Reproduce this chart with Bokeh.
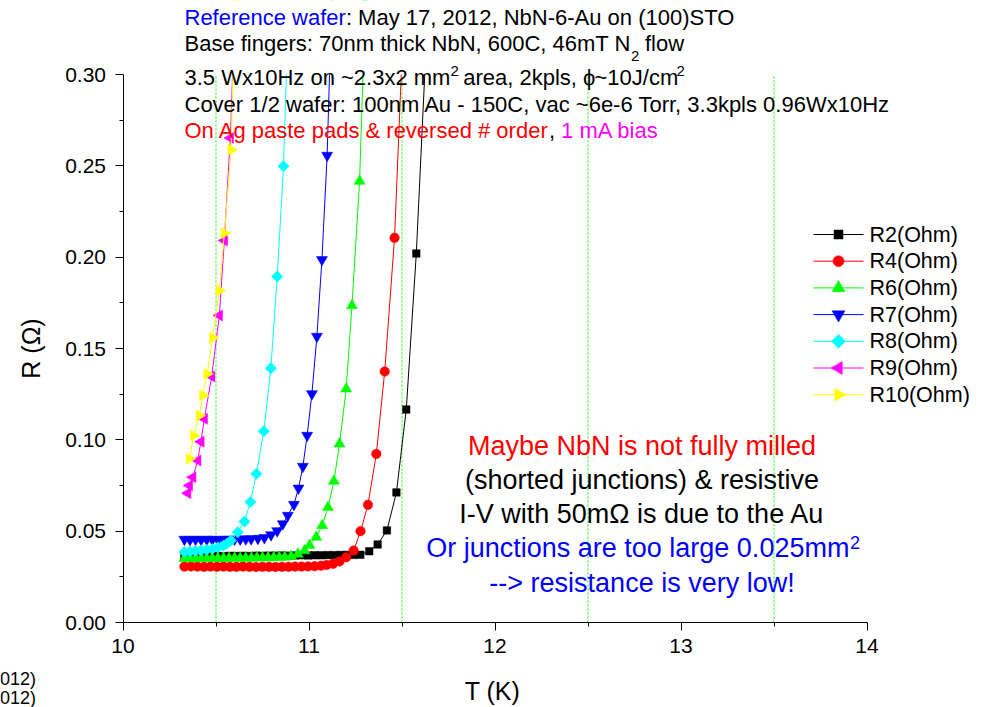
from bokeh.plotting import figure
from bokeh.models import Label, Range1d, FixedTicker, PrintfTickFormatter
from bokeh.embed import file_html
from bokeh.resources import INLINE
import math

# ---- R(T) sweeps, one pair of lists per pad ------------------------------
T_R2 = [10.33, 10.365, 10.40, 10.435, 10.47, 10.505, 10.54, 10.575, 10.61, 10.645,
        10.68, 10.715, 10.75, 10.785, 10.82, 10.855, 10.89, 10.925, 10.96, 10.995,
        11.03, 11.065, 11.10, 11.135, 11.17, 11.205, 11.24, 11.276, 11.324, 11.369,
        11.419, 11.470, 11.523, 11.577, 11.627]
R_R2 = [0.0362, 0.0363, 0.0362, 0.0364, 0.0363, 0.0364, 0.0363, 0.0365, 0.0364, 0.0365,
        0.0364, 0.0366, 0.0365, 0.0366, 0.0366, 0.0367, 0.0366, 0.0367, 0.0368, 0.0367,
        0.0368, 0.0368, 0.0369, 0.0369, 0.0370, 0.0370, 0.0370, 0.0371, 0.0390, 0.0427,
        0.0504, 0.0712, 0.1166, 0.2020, 0.3100]

T_R4 = [10.33, 10.365, 10.40, 10.435, 10.47, 10.505, 10.54, 10.575, 10.61, 10.645,
        10.68, 10.715, 10.75, 10.785, 10.82, 10.855, 10.89, 10.925, 10.96, 10.995,
        11.03, 11.065, 11.095, 11.129, 11.164, 11.200, 11.240, 11.277, 11.317, 11.362,
        11.407, 11.460, 11.500]
R_R4 = [0.0306, 0.0307, 0.0306, 0.0305, 0.0306, 0.0305, 0.0306, 0.0305, 0.0305, 0.0306,
        0.0305, 0.0304, 0.0305, 0.0305, 0.0304, 0.0305, 0.0305, 0.0306, 0.0306, 0.0307,
        0.0308, 0.0311, 0.0315, 0.0321, 0.0334, 0.0357, 0.0394, 0.0500, 0.0644, 0.0923,
        0.1374, 0.2106, 0.3100]

T_R6 = [10.33, 10.36, 10.39, 10.42, 10.45, 10.48, 10.51, 10.54, 10.57, 10.60,
        10.63, 10.66, 10.69, 10.72, 10.75, 10.78, 10.81, 10.84, 10.87, 10.904,
        10.940, 10.976, 11.003, 11.039, 11.071, 11.102, 11.134, 11.164, 11.200, 11.231,
        11.272, 11.303]
R_R6 = [0.0350, 0.0351, 0.0350, 0.0351, 0.0351, 0.0352, 0.0351, 0.0352, 0.0352, 0.0353,
        0.0352, 0.0353, 0.0353, 0.0354, 0.0354, 0.0355, 0.0355, 0.0357, 0.0358, 0.0362,
        0.0374, 0.0394, 0.0422, 0.0467, 0.0531, 0.0631, 0.0774, 0.0978, 0.1279, 0.1735,
        0.2416, 0.3400]

T_R7 = [10.33, 10.36, 10.39, 10.42, 10.45, 10.48, 10.51, 10.54, 10.57, 10.60,
        10.63, 10.66, 10.689, 10.725, 10.760, 10.796, 10.829, 10.859, 10.886, 10.919,
        10.9435, 10.967, 10.990, 11.0156, 11.0425, 11.0695, 11.0975, 11.125]
R_R7 = [0.0455, 0.0454, 0.0455, 0.0454, 0.0455, 0.0455, 0.0454, 0.0455, 0.0455, 0.0456,
        0.0456, 0.0457, 0.0458, 0.0460, 0.0464, 0.0480, 0.0502, 0.0540, 0.0586, 0.0646,
        0.0735, 0.0854, 0.1024, 0.1252, 0.1566, 0.1986, 0.2557, 0.3500]

T_R8 = [10.33, 10.36, 10.39, 10.42, 10.45, 10.48, 10.51, 10.54, 10.56, 10.581,
        10.617, 10.653, 10.685, 10.717, 10.757, 10.795, 10.829, 10.863, 10.897]
R_R8 = [0.0386, 0.0388, 0.0391, 0.0394, 0.0398, 0.0403, 0.0411, 0.0421, 0.0433, 0.0449,
        0.0494, 0.0553, 0.0659, 0.0814, 0.1047, 0.1392, 0.1894, 0.2498, 0.3600]

T_R9 = [10.348, 10.357, 10.375, 10.402, 10.419, 10.437, 10.477, 10.518, 10.545, 10.577,
        10.600]
R_R9 = [0.0708, 0.0750, 0.0795, 0.0887, 0.0990, 0.1115, 0.1347, 0.1681, 0.2091, 0.2653,
        0.3300]

T_R10 = [10.357, 10.380, 10.410, 10.429, 10.452, 10.482, 10.518, 10.545, 10.581, 10.600]
R_R10 = [0.0896, 0.1024, 0.1133, 0.1243, 0.1361, 0.1559, 0.1817, 0.2131, 0.2588, 0.3400]

SERIES = ["R2(Ohm)", "R4(Ohm)", "R6(Ohm)", "R7(Ohm)", "R8(Ohm)", "R9(Ohm)", "R10(Ohm)"]

X_TICKS = [10, 11, 12, 13, 14]
X_MINOR = [10.5, 11.5, 12.5, 13.5]
Y_TICKS = [0.00, 0.05, 0.10, 0.15, 0.20, 0.25, 0.30]
Y_MINOR = [0.025, 0.075, 0.125, 0.175, 0.225, 0.275]

# ---- page geometry ---------------------------------------------------------
W, H = 984, 707
LEFT, RIGHT, TOP, BOTTOM = 122.5, 866.5, 74, 622   # plot box in canvas pixels
X0, X1, Y0, Y1 = 10, 14, 0.0, 0.30
FONT = "Liberation Sans"


def dx(px):
    """canvas pixel column -> temperature"""
    return X0 + (px - LEFT) / (RIGHT - LEFT) * (X1 - X0)


def dy(py):
    """canvas pixel row -> resistance"""
    return Y0 + (BOTTOM - py) / (BOTTOM - TOP) * (Y1 - Y0)


# the frame fills the whole canvas so that the notes around the box stay visible;
# the axes are pinned to T=10 K and R=0 and bounded to the plotted ranges
p = figure(width=W, height=H, output_backend="svg", toolbar_location=None,
           x_range=Range1d(dx(0), dx(W)), y_range=Range1d(dy(H), dy(0)),
           min_border_left=0, min_border_right=0,
           min_border_top=0, min_border_bottom=0)
p.title.visible = False
p.outline_line_color = None
p.background_fill_color = "white"
p.border_fill_color = "white"
p.xgrid.visible = False
p.ygrid.visible = False

xa, ya = p.xaxis[0], p.yaxis[0]
xa.fixed_location = Y0
ya.fixed_location = X0
xa.bounds = (X0, X1)
ya.bounds = (Y0, Y1)
for ax in (xa, ya):
    ax.axis_line_color = "black"
    ax.axis_line_width = 1
    ax.major_tick_in = 0
    ax.major_tick_out = 8
    ax.minor_tick_in = 0
    ax.minor_tick_out = 4
    ax.major_tick_line_color = "black"
    ax.minor_tick_line_color = "black"
    ax.major_label_text_font = FONT
    ax.major_label_text_font_size = "21px"
    ax.major_label_text_color = "black"
xa.ticker = FixedTicker(ticks=X_TICKS, minor_ticks=X_MINOR)
ya.ticker = FixedTicker(ticks=Y_TICKS, minor_ticks=Y_MINOR)
ya.formatter = PrintfTickFormatter(format="%.2f")
xa.major_label_standoff = 8
ya.major_label_standoff = 9

# dotted green guides at the half-kelvin marks
p.segment(x0=X_MINOR, x1=X_MINOR, y0=[Y0] * len(X_MINOR), y1=[Y1] * len(X_MINOR),
          line_color="#00ff00", line_dash="2 2", line_width=1)

# ---- curves ------------------------------------------------------------------
# colour, marker, size in the plot, size in the key, rotation
styles = [
    ("#000000", "square", 7.5, 9, 0.0),
    ("#ff0000", "circle", 9.5, 11, 0.0),
    ("#00ff00", "triangle", 11, 13, 0.0),
    ("#0000ff", "inverted_triangle", 11, 13, 0.0),
    ("#00ffff", "square", 8, 10, math.pi / 4),
    ("#ff00ff", "triangle", 11, 13, math.pi / 2),
    ("#ffff00", "triangle", 11, 13, -math.pi / 2),
]
data = [(T_R2, R_R2), (T_R4, R_R4), (T_R6, R_R6), (T_R7, R_R7),
        (T_R8, R_R8), (T_R9, R_R9), (T_R10, R_R10)]

for (t, r), (col, mk, sz, _, ang) in zip(data, styles):
    p.line(t, r, line_color=col, line_width=1)
    p.scatter(t, r, marker=mk, size=sz, angle=ang, fill_color=col,
              line_color=col, line_width=0.5)

# curves leave the box at R = 0.30: blank out everything above it
p.quad(left=[dx(-20)], right=[dx(W + 20)], bottom=[Y1], top=[dy(-20)],
       fill_color="white", line_color=None)


def put(text, px, py, color="black", size=22, align="left", angle=0.0):
    p.add_layout(Label(x=dx(px), y=dy(py), text=text, text_color=color,
                       text_font=FONT, text_font_size=f"{size}px",
                       text_align=align, text_baseline="middle",
                       angle=angle))


# ---- key (drawn by hand so that rotated markers keep their direction) ------------
KEY_X0, KEY_X1, KEY_TOP, KEY_STEP = 813, 863, 234, 26.7
for i, (name, (col, mk, _, ksz, ang)) in enumerate(zip(SERIES, styles)):
    ky = dy(KEY_TOP + i * KEY_STEP)
    p.segment(x0=[dx(KEY_X0)], x1=[dx(KEY_X1)], y0=[ky], y1=[ky],
              line_color=col, line_width=1)
    p.scatter([dx((KEY_X0 + KEY_X1) / 2)], [ky], marker=mk, size=ksz, angle=ang,
              fill_color=col, line_color=col, line_width=0.5)
    put(name, 869, KEY_TOP + i * KEY_STEP, size=21.5)

# ---- sample header -------------------------------------------------------------
put("Reference wafer", 184, 16.7, "#0000ff")
put(": May 17, 2012, NbN-6-Au on (100)STO", 345.4, 16.7)
put("Base fingers: 70nm thick NbN, 600C, 46mT N", 184, 42.5)
put("2", 630.5, 55, size=15)
put("flow", 644.5, 42.5)
put("3.5 Wx10Hz on ~2.3x2 mm", 184, 77)
put("2", 450, 70, size=15)
put("area, 2kpls, ", 462.7, 77)
put("\u03d5", 582.6, 77)
put("~10J/cm", 594, 77)
put("2", 676, 70, size=15)
put("Cover 1/2 wafer: 100nm Au - 150C, vac ~6e-6 Torr, 3.3kpls 0.96Wx10Hz", 184, 103.5)
put("On Ag paste pads & reversed # order", 184, 129.5, "#ff0000")
put(",", 548.4, 129.5)
put("1 mA bias", 560.6, 129.5, "#ff00ff")

# ---- remarks -----------------------------------------------------------------
put("Maybe NbN is not fully milled", 641.5, 445, "#ff0000", 27, "center")
put("(shorted junctions) & resistive", 641.5, 479, "black", 27, "center")
put("I-V with 50m\u03a9 is due to the Au", 641.5, 513, "black", 27, "center")
put("Or junctions are too large 0.025mm", 425.7, 547.5, "#0000ff", 27)
put("2", 849.5, 541.5, "#0000ff", 18)
put("--> resistance is very low!", 641.5, 582, "#0000ff", 27, "center")

# ---- axis titles -----------------------------------------------------------------
put("T (K)", 492, 690, "black", 25, "center")
put("R (\u03a9)", 30, 348, "black", 25, "center", math.pi / 2)

# trailing text from the neighbouring panel
put("012)", -0.5, 678, "black", 18)
put("012)", -0.5, 697, "black", 18)

open("out.html", "w").write(file_html(p, INLINE))
